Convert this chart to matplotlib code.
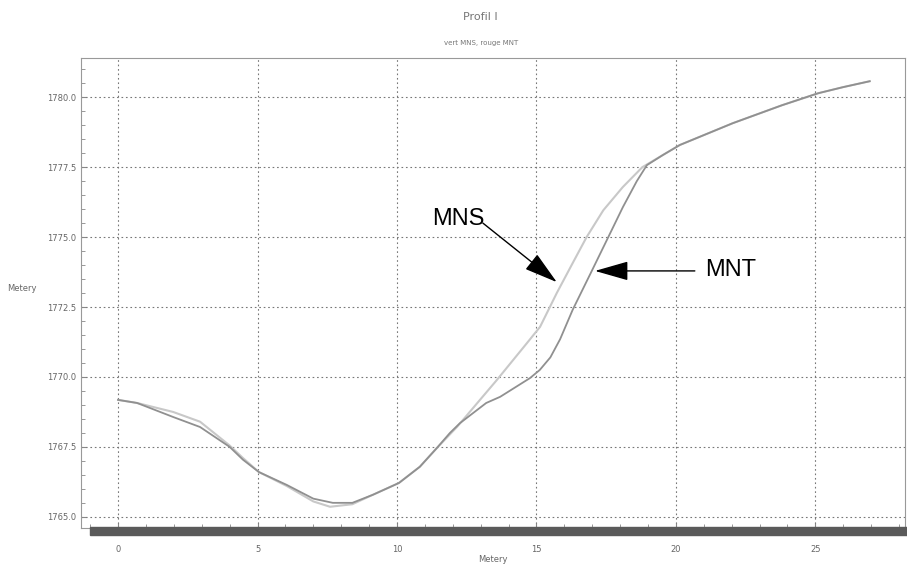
import matplotlib.pyplot as plt
from matplotlib.ticker import MultipleLocator
from matplotlib.patches import Rectangle

# distance along profile (m) and elevations
mnt_dist = [0, 0.68, 1.97, 2.94, 4.0, 4.48, 5.05, 6.05, 7.0, 7.7, 8.4, 9.14, 10.07, 10.82, 11.43,
            11.9, 12.26, 13.2, 13.7, 14.77, 15.12, 15.5, 15.85, 16.3, 17.0, 17.7, 18.1, 18.6,
            18.96, 19.53, 20.14, 22.04, 23.8, 25.1, 26.0, 26.95]
mnt = [1769.18, 1769.07, 1768.57, 1768.21, 1767.5, 1767.04, 1766.6, 1766.14, 1765.65, 1765.5,
       1765.5, 1765.79, 1766.21, 1766.79, 1767.46, 1768.0, 1768.35, 1769.07, 1769.29, 1769.96,
       1770.25, 1770.7, 1771.35, 1772.4, 1773.82, 1775.25, 1776.07, 1777.0, 1777.57, 1777.93,
       1778.29, 1779.07, 1779.71, 1780.14, 1780.36, 1780.57]

mns_dist = [0, 0.68, 1.97, 2.94, 4.0, 4.48, 5.05, 6.05, 7.0, 7.6, 8.4, 9.14, 10.07, 10.82, 11.43,
            12.15, 13.58, 14.66, 15.13, 15.73, 16.3, 16.8, 17.4, 18.1, 18.8, 19.53, 20.14, 22.04,
            23.8, 25.1, 26.0, 26.95]
mns = [1769.18, 1769.07, 1768.75, 1768.4, 1767.55, 1767.1, 1766.6, 1766.1, 1765.55, 1765.36,
       1765.45, 1765.79, 1766.21, 1766.79, 1767.46, 1768.21, 1769.89, 1771.21, 1771.79, 1773.0,
       1774.07, 1775.0, 1775.96, 1776.79, 1777.5, 1777.93, 1778.29, 1779.07, 1779.71, 1780.14,
       1780.36, 1780.57]

fig = plt.figure(figsize=(9.07, 5.66), dpi=100)
ax = fig.add_axes([0.0893, 0.0671, 0.908, 0.8304])

ax.plot(mns_dist, mns, color='#c8c8c8', lw=1.5)
ax.plot(mnt_dist, mnt, color='#909090', lw=1.3)

ax.set_xlim(-1.33, 28.2)
ax.set_ylim(1764.6, 1781.4)
ax.xaxis.set_major_locator(MultipleLocator(5))
ax.xaxis.set_minor_locator(MultipleLocator(1))
ax.yaxis.set_major_locator(MultipleLocator(2.5))
ax.yaxis.set_minor_locator(MultipleLocator(0.5))
ax.yaxis.set_major_formatter(lambda v, p: f"{v:.1f}")
ax.grid(True, which='major', color='#777777', ls=(0, (1.5, 2.5)), lw=0.8)
ax.tick_params(which='both', direction='in', colors='#888888', labelcolor='#666666', labelsize=6)
ax.tick_params(axis='x', pad=12)
ax.tick_params(which='minor', length=3)
for s in ax.spines.values():
    s.set_color('#999999')

# dark shadow bar under the frame
fig.patches.append(Rectangle((90 / 907, 31 / 566), 1 - 90 / 907, 8 / 566,
                             transform=fig.transFigure, color='#5a5a5a', zorder=5))

ax.set_xlabel('Metery', fontsize=6, color='#666666', labelpad=1)
ax.set_ylabel('Metery', fontsize=6, color='#666666', rotation=0, labelpad=18)

fig.text(0.53, 0.965, 'Profil I', ha='center', fontsize=8, color='#777777')
fig.text(0.53, 0.92, 'vert MNS, rouge MNT', ha='center', fontsize=5, color='#777777')

arrow = dict(arrowstyle='-|>,head_length=2.1,head_width=0.6', color='black', lw=1,
             shrinkA=0, shrinkB=0)
ax.annotate('', xy=(15.73, 1773.39), xytext=(13.08, 1775.5), arrowprops=arrow)
ax.text(11.25, 1775.43, 'MNS', fontsize=17, family='Liberation Sans')
ax.annotate('', xy=(17.1, 1773.79), xytext=(20.68, 1773.79), arrowprops=arrow)
ax.text(21.04, 1773.82, 'MNT', fontsize=17, family='Liberation Sans', va='center')

fig.savefig('out.png', dpi=100)
